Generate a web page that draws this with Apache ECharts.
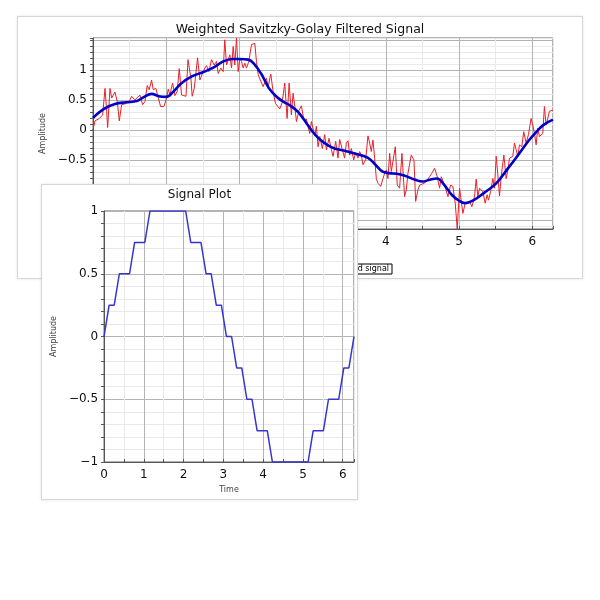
<!DOCTYPE html>
<html><head><meta charset="utf-8">
<script src="https://cdn.jsdelivr.net/npm/echarts@6/dist/echarts.min.js"></script>
<style>
html,body{margin:0;padding:0;background:#fff;width:600px;height:600px;overflow:hidden;}
.card{position:absolute;background:#fff;border:1px solid #d6d6d6;box-shadow:0 0 3px rgba(0,0,0,0.10);}
#cardTop{left:17px;top:16px;width:564px;height:261px;z-index:1;}
#cardBot{left:41px;top:184px;width:315px;height:314px;z-index:2;}
.chart{width:100%;height:100%;}
</style></head>
<body>
<div class="card" id="cardTop"><div class="chart" id="topChart"></div></div>
<div class="card" id="cardBot"><div class="chart" id="botChart"></div></div>
<script>
// ---- Top chart data ----
const noisyT = [0,0.027,0.086,0.132,0.164,0.187,0.2,0.232,0.255,0.3,0.332,0.359,0.391,0.459,0.505,0.528,0.573,0.641,0.678,0.709,0.741,0.768,0.8,0.823,0.859,0.891,0.923,0.969,1.005,1.028,1.05,1.087,1.119,1.15,1.178,1.21,1.241,1.27,1.298,1.337,1.355,1.383,1.428,1.46,1.474,1.505,1.528,1.551,1.583,1.619,1.655,1.687,1.71,1.746,1.778,1.8,1.824,1.846,1.869,1.892,1.915,1.937,1.96,1.983,2.006,2.028,2.051,2.074,2.096,2.128,2.165,2.21,2.233,2.256,2.292,2.324,2.346,2.369,2.392,2.428,2.46,2.492,2.519,2.551,2.583,2.619,2.642,2.651,2.679,2.71,2.733,2.756,2.779,2.815,2.847,2.879,2.915,2.938,2.96,2.983,3.006,3.029,3.051,3.074,3.097,3.133,3.165,3.188,3.224,3.256,3.279,3.315,3.347,3.369,3.406,3.437,3.46,3.483,3.506,3.529,3.561,3.588,3.62,3.642,3.665,3.688,3.724,3.756,3.779,3.801,3.824,3.847,3.87,3.893,3.93,3.961,3.984,4.006,4.029,4.052,4.075,4.097,4.129,4.156,4.188,4.22,4.256,4.279,4.302,4.325,4.347,4.384,4.407,4.438,4.461,4.484,4.52,4.552,4.597,4.629,4.666,4.702,4.734,4.757,4.802,4.848,4.884,4.916,4.948,4.975,5.007,5.03,5.052,5.084,5.111,5.143,5.175,5.211,5.234,5.257,5.28,5.302,5.325,5.357,5.384,5.402,5.43,5.462,5.484,5.507,5.53,5.553,5.575,5.612,5.643,5.666,5.689,5.711,5.734,5.757,5.78,5.802,5.825,5.857,5.884,5.916,5.948,5.984,6.007,6.03,6.053,6.075,6.098,6.121,6.143,6.166,6.189,6.212,6.234,6.257,6.283];
const noisyV = [0,0.15,0.19,0.25,0.69,0.31,0.04,0.69,0.53,0.63,0.47,0.15,0.42,0.44,0.5,0.56,0.5,0.58,0.42,0.47,0.74,0.67,0.83,0.67,0.69,0.54,0.39,0.39,0.53,0.68,0.58,0.78,0.57,0.64,1.02,0.58,0.57,0.56,1.17,0.86,0.56,0.69,1.2,0.83,0.86,0.97,1.03,1.07,0.97,1.17,1.08,1.14,0.94,1.03,0.97,1.5,1.08,1.06,1.25,1.03,1.39,1.08,1.53,0.97,1.19,1.14,1.03,1.11,1.03,1.14,1.42,1.44,1.14,0.92,0.81,0.72,0.75,0.86,0.72,0.93,0.64,0.44,0.47,0.35,0.45,0.78,0.36,0.19,0.78,0.25,0.61,0.39,0.14,0.33,0.4,0.17,0.18,0.19,-0.06,0.14,0.11,-0.1,0.06,-0.28,-0.11,-0.31,-0.08,-0.33,-0.14,-0.33,-0.44,-0.19,-0.47,-0.16,-0.33,-0.47,-0.22,-0.18,-0.42,-0.31,-0.5,-0.38,-0.47,-0.36,-0.42,-0.58,-0.5,-0.1,-0.22,-0.36,-0.17,-0.47,-0.81,-0.89,-0.94,-0.81,-0.72,-0.67,-0.81,-0.39,-0.69,-0.72,-0.28,-0.92,-0.97,-0.39,-1.11,-1.0,-0.72,-0.75,-0.42,-0.5,-1.19,-1.0,-0.92,-0.94,-0.89,-0.86,-0.78,-0.72,-0.64,-0.78,-0.97,-0.78,-0.92,-1.11,-0.92,-0.94,-1.22,-1.65,-0.97,-0.94,-1.39,-1.22,-1.25,-1.19,-1.28,-1.11,-0.82,-1.11,-0.97,-0.94,-1.03,-1.22,-1.08,-1.17,-1.03,-0.81,-0.97,-0.44,-0.75,-1.1,-0.78,-0.42,-0.81,-0.67,-0.47,-0.47,-0.44,-0.22,-0.33,-0.44,-0.25,-0.28,-0.03,-0.22,-0.08,0.19,0.08,-0.06,-0.25,0.03,-0.11,-0.14,-0.06,0.39,0.08,0.19,0.31,0.33,0.33];
const smoothT = [0,0.15,0.3,0.45,0.6,0.7,0.8,0.9,1.0,1.1,1.2,1.35,1.5,1.65,1.78,1.9,2.0,2.12,2.2,2.3,2.4,2.5,2.6,2.7,2.8,2.9,3.0,3.1,3.2,3.3,3.45,3.6,3.75,3.85,3.95,4.05,4.15,4.25,4.4,4.5,4.6,4.7,4.8,4.9,5.0,5.08,5.2,5.35,5.5,5.65,5.8,5.95,6.05,6.15,6.283];
const smoothV = [0.2,0.35,0.43,0.46,0.48,0.55,0.6,0.56,0.55,0.64,0.77,0.89,0.96,1.04,1.14,1.18,1.18,1.17,1.1,0.93,0.7,0.56,0.47,0.4,0.3,0.14,-0.03,-0.16,-0.25,-0.31,-0.35,-0.4,-0.46,-0.57,-0.69,-0.72,-0.73,-0.76,-0.83,-0.86,-0.83,-0.81,-0.92,-1.08,-1.18,-1.22,-1.17,-1.04,-0.9,-0.67,-0.43,-0.18,-0.04,0.08,0.17];
const topTitle = 'Weighted Savitzky-Golay Filtered Signal';
const legendNames = ['Noisy signal', 'Filtered signal'];
const topYRange = [-1.65, 1.53];
const topYLabelMax = 1;
const xRange = [0, 6.2832];

// ---- Bottom chart data ----
const sigT = [0,0.128,0.256,0.385,0.513,0.641,0.769,0.898,1.026,1.154,1.282,1.411,1.539,1.667,1.795,1.923,2.052,2.180,2.308,2.436,2.565,2.693,2.821,2.949,3.077,3.206,3.334,3.462,3.590,3.719,3.847,3.975,4.103,4.232,4.360,4.488,4.616,4.744,4.873,5.001,5.129,5.257,5.386,5.514,5.642,5.770,5.899,6.027,6.155,6.283];
const sigV = [0,0.25,0.25,0.5,0.5,0.5,0.75,0.75,0.75,1,1,1,1,1,1,1,1,0.75,0.75,0.75,0.5,0.5,0.25,0.25,0,0,-0.25,-0.25,-0.5,-0.5,-0.75,-0.75,-0.75,-1,-1,-1,-1,-1,-1,-1,-1,-0.75,-0.75,-0.75,-0.5,-0.5,-0.5,-0.25,-0.25,0];
const botTitle = 'Signal Plot';

const FONT = 'DejaVu Sans';
const DARK = '#b4b4b4', LIGHT = '#e9e9e9';

function fmtHalf(v){
  const k = v*2;
  if (Math.abs(k - Math.round(k)) > 1e-6) return '';
  return String(Math.round(v*10)/10).replace('-', '\u2212');
}
function fmtHalfTop(v){
  if (v > topYLabelMax + 1e-6) return '';
  return fmtHalf(v);
}
function fmtInt(v){
  if (Math.abs(v - Math.round(v)) > 1e-6) return '';
  return String(Math.round(v)).replace('-', '\u2212');
}
function pairs(a, b){ return a.map((t, i) => [t, b[i]]); }

function xAxisCfg(name){
  const c = {
    type:'value', min:xRange[0], max:xRange[1], interval:0.5,
    axisLine:{show:true, onZero:false, lineStyle:{color:'#555', width:1}},
    axisTick:{show:true, inside:true, length:3, lineStyle:{color:'#555'}},
    axisLabel:{margin:7, fontFamily:FONT, fontSize:12, color:'#111', formatter:fmtInt},
    splitLine:{show:true, lineStyle:{color:[DARK, LIGHT], width:1}}
  };
  if (name) {
    c.name = name; c.nameLocation = 'middle'; c.nameGap = 24;
    c.nameTextStyle = {fontFamily:FONT, fontSize:8, color:'#444'};
  }
  return c;
}

// ---- Top chart ----
const topChart = echarts.init(document.getElementById('topChart'), null, {renderer:'canvas'});
topChart.setOption({
  animation:false,
  backgroundColor:'#fff',
  title:{text:topTitle, left:'center', top:6, padding:0,
    textStyle:{fontFamily:FONT, fontSize:12.5, fontWeight:'normal', color:'#111'}},
  legend:{data:legendNames, right:190, top:247, orient:'horizontal',
    padding:[1,3], itemGap:8, itemWidth:18, itemHeight:6,
    borderColor:'#000', borderWidth:1, borderRadius:0, backgroundColor:'#fff',
    textStyle:{fontFamily:FONT, fontSize:8, color:'#000'}},
  grid:{left:75, top:21, width:460, height:191, show:true, borderColor:'#666', borderWidth:1, backgroundColor:'#fff', containLabel:false},
  xAxis:xAxisCfg(null),
  yAxis:{type:'value', min:topYRange[0], max:topYRange[1], splitNumber:30,
    axisLine:{show:true, onZero:false, lineStyle:{color:'#555'}},
    axisTick:{show:true, inside:false, length:3, lineStyle:{color:'#555'}},
    axisLabel:{margin:6, fontFamily:FONT, fontSize:12, color:'#111', formatter:fmtHalfTop},
    splitLine:{show:true, lineStyle:{color:[LIGHT, LIGHT, DARK, LIGHT, LIGHT], width:1}},
    name:'Amplitude', nameLocation:'middle', nameGap:43,
    nameTextStyle:{fontFamily:FONT, fontSize:8, color:'#444'}},
  series:[
    {name:legendNames[0], type:'line', data:pairs(noisyT, noisyV), showSymbol:false, symbol:'none',
      lineStyle:{color:'#e8202a', width:1}, itemStyle:{color:'#e8202a'}},
    {name:legendNames[1], type:'line', data:pairs(smoothT, smoothV), showSymbol:false, symbol:'none', smooth:0.4,
      lineStyle:{color:'#0000c8', width:2.6}, itemStyle:{color:'#0000c8'}}
  ]
});

// ---- Bottom chart ----
const botChart = echarts.init(document.getElementById('botChart'), null, {renderer:'canvas'});
botChart.setOption({
  animation:false,
  backgroundColor:'#fff',
  title:{text:botTitle, left:'center', top:4, padding:0,
    textStyle:{fontFamily:FONT, fontSize:12, fontWeight:'normal', color:'#111'}},
  grid:{left:54, top:26, width:258, height:257, show:true, borderColor:'#666', borderWidth:1, backgroundColor:'#fff'},
  xAxis:xAxisCfg('Time'),
  yAxis:{type:'value', min:-1, max:1, interval:0.1,
    axisLine:{show:true, onZero:false, lineStyle:{color:'#555'}},
    axisTick:{show:true, inside:false, length:3, lineStyle:{color:'#555'}},
    axisLabel:{margin:6, fontFamily:FONT, fontSize:12, color:'#111', formatter:fmtHalf},
    splitLine:{show:true, lineStyle:{color:[DARK, LIGHT, LIGHT, LIGHT, LIGHT], width:1}},
    name:'Amplitude', nameLocation:'middle', nameGap:40,
    nameTextStyle:{fontFamily:FONT, fontSize:8, color:'#444'}},
  series:[
    {name:'Signal', type:'line', data:pairs(sigT, sigV), showSymbol:false, symbol:'none',
      lineStyle:{color:'#3535d0', width:1.5}}
  ]
});
</script>
</body></html>
